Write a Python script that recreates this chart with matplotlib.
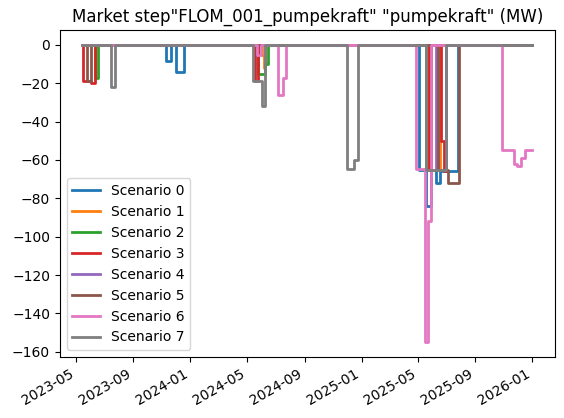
import matplotlib
matplotlib.use("Agg")
import matplotlib.pyplot as plt
import pandas as pd

start = "2023-05-15"
end = "2026-01-01"
scenario_names = [f"Scenario {i}" for i in range(8)]
# each scenario: list of (date, value) change points (step-post)
s0 = [("2023-11-10", -8.5), ("2023-11-21", 0), ("2023-12-02", -14), ("2023-12-19", 0),
      ("2025-05-04", -65), ("2025-05-19", -84), ("2025-05-29", -65), ("2025-06-09", -72),
      ("2025-06-17", -66), ("2025-07-18", -66), ("2025-07-25", 0)]
s1 = [("2024-06-02", -5), ("2024-06-06", -12), ("2024-06-09", 0),
      ("2025-05-23", -65), ("2025-06-17", 0)]
s2 = [("2023-06-12", -17), ("2023-06-17", 0), ("2024-05-25", -15), ("2024-06-09", -10),
      ("2024-06-15", 0), ("2025-05-19", -64), ("2025-05-26", 0)]
s3 = [("2023-05-17", -19), ("2023-06-03", -20), ("2023-06-12", 0), ("2024-05-18", -19),
      ("2024-05-25", 0), ("2025-05-25", -65), ("2025-05-29", 0), ("2025-06-19", -50),
      ("2025-06-25", -66), ("2025-06-30", 0)]
s4 = [("2025-06-09", -65), ("2025-06-30", 0)]
s5 = [("2023-05-24", -19), ("2023-06-03", 0), ("2025-06-13", -65), ("2025-07-04", -72),
      ("2025-07-29", 0)]
s6 = [("2024-05-22", -5), ("2024-05-30", 0), ("2024-07-07", -26), ("2024-07-17", -17),
      ("2024-07-24", 0), ("2025-04-27", -64.5), ("2025-05-16", -155), ("2025-05-23", -92),
      ("2025-05-29", 0), ("2025-10-27", -55), ("2025-11-23", -62), ("2025-11-30", -63),
      ("2025-12-08", -59), ("2025-12-16", -55)]
s7 = [("2023-07-15", -22), ("2023-07-23", 0), ("2024-05-14", -19), ("2024-06-02", -32),
      ("2024-06-09", 0), ("2024-12-01", -64.5), ("2024-12-15", -60), ("2024-12-24", 0),
      ("2025-05-19", -65), ("2025-06-30", 0)]
scenarios = [s0, s1, s2, s3, s4, s5, s6, s7]

fig, ax = plt.subplots(figsize=(5.64, 4.18), dpi=100)
for name, s in zip(scenario_names, scenarios):
    dates = [start] + [d for d, v in s] + [end]
    vals = [0] + [v for d, v in s]
    vals.append(vals[-1])
    ax.plot(pd.to_datetime(dates), vals, drawstyle="steps-post", lw=2, label=name)
ax.set_title('Market step"FLOM_001_pumpekraft" "pumpekraft" (MW)')
ax.legend(loc="lower left")
ax.set_ylim(-162.75, 7.75)
fig.autofmt_xdate()
fig.subplots_adjust(left=0.106, right=0.984, top=0.928, bottom=0.146)
fig.savefig("out.png")
